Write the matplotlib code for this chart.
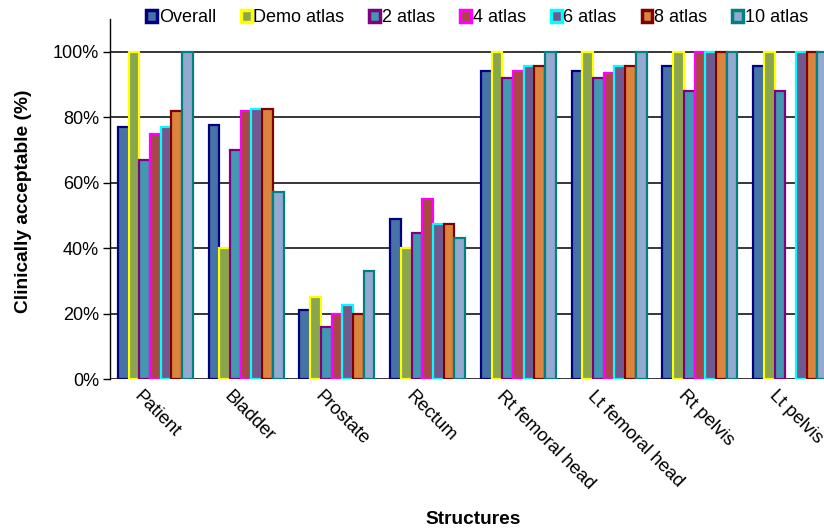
import matplotlib
matplotlib.use("Agg")
import matplotlib.pyplot as plt
from matplotlib.patches import Patch
from matplotlib.transforms import ScaledTranslation
from matplotlib.ticker import PercentFormatter
import numpy as np

plt.rcParams['font.family'] = ['Liberation Sans', 'DejaVu Sans']

structures = ["Patient", "Bladder", "Prostate", "Rectum", "Rt femoral head",
              "Lt femoral head", "Rt pelvis", "Lt pelvis"]
series = ["Overall", "Demo atlas", "2 atlas", "4 atlas", "6 atlas", "8 atlas", "10 atlas"]

overall = [77, 77.5, 21, 49, 94, 94, 95.5, 95.5]
demo_atlas = [100, 40, 25, 40, 100, 100, 100, 100]
atlas_2 = [67, 70, 16, 44.5, 92, 92, 88, 88]
atlas_4 = [75, 82, 20, 55, 94, 93.5, 100, np.nan]
atlas_6 = [77, 82.5, 22.5, 47.5, 95.5, 95.5, 100, 100]
atlas_8 = [82, 82.5, 20, 47.5, 95.5, 95.5, 100, 100]
atlas_10 = [100, 57, 33, 43, 100, 100, 100, 100]
values = [overall, demo_atlas, atlas_2, atlas_4, atlas_6, atlas_8, atlas_10]

faces = ["#4572A7", "#89A54E", "#4198AF", "#AA4643", "#71588F", "#DB843D", "#93A9CF"]
edges = ["#000080", "#FFFF00", "#800080", "#FF00FF", "#00FFFF", "#800000", "#008080"]

fig = plt.figure(figsize=(8.24, 5.28), dpi=100)
# axes runs past the right edge, like the original (last group is cut off)
ax = fig.add_axes([110/824, 149/528, 726/824, 360/528])

x = np.arange(len(structures))
w = 0.1183
for i, vals in enumerate(values):
    ax.bar(x - 3*w + i*w, np.array(vals) / 100, width=w, color=faces[i],
           edgecolor=edges[i], linewidth=1.6, zorder=3)

ax.set_xlim(-0.5, len(structures) - 0.5)
ax.set_ylim(0, 1.1)
ax.set_yticks(np.arange(0, 1.01, 0.2))
ax.yaxis.set_major_formatter(PercentFormatter(1.0, decimals=0))
ax.grid(axis='y', color='black', linewidth=1.1, zorder=1)
ax.set_axisbelow(True)
for s in ['top', 'right', 'bottom']:
    ax.spines[s].set_visible(False)
ax.spines['left'].set_linewidth(1.0)
ax.tick_params(axis='y', length=5, width=1, labelsize=13, pad=3)
ax.tick_params(axis='x', length=0, labelsize=13.3, pad=6)

ax.set_xticks(x)
ax.set_xticklabels(structures, rotation=-45, ha='left', va='top', rotation_mode='anchor')
off = ScaledTranslation(-13/100, 0, fig.dpi_scale_trans)
for lbl in ax.get_xticklabels():
    lbl.set_transform(lbl.get_transform() + off)

fig.text(24/824, 1 - 201/528, "Clinically acceptable (%)", rotation=90, ha='center',
         va='center', fontsize=13.8, fontweight='bold')
fig.text(473/824, 1 - 520/528, "Structures", ha='center', va='center',
         fontsize=13.8, fontweight='bold')

handles = [Patch(facecolor=faces[i], edgecolor=edges[i], linewidth=2.5) for i in range(7)]
fig.legend(handles, series, loc='center left', bbox_to_anchor=(146/824, 1 - 18/528),
           ncol=7, frameon=False, fontsize=13, handlelength=0.6, handleheight=0.6,
           handletextpad=0.1, columnspacing=1.38, borderaxespad=0, borderpad=0)

fig.savefig("out.png", dpi=100)
